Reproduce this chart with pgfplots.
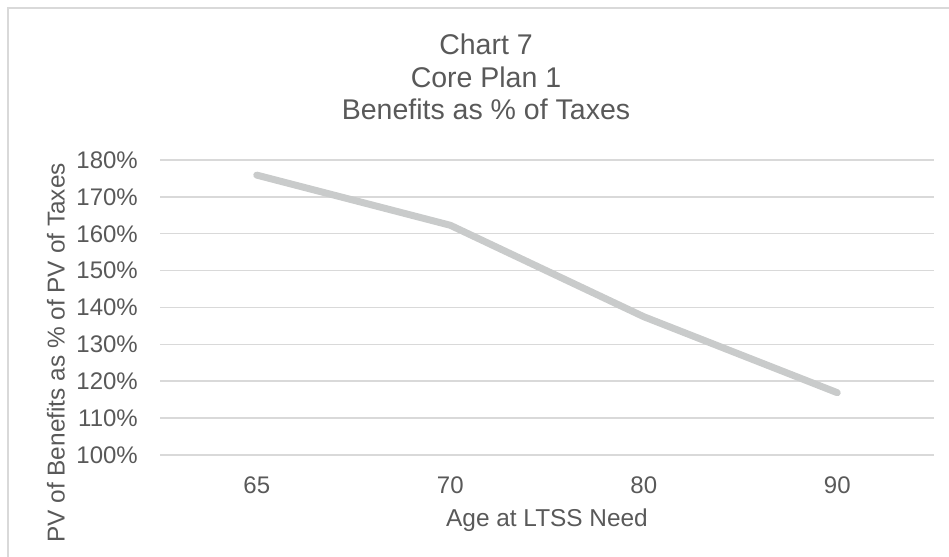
\documentclass[border=0pt]{standalone}
\usepackage{pgfplots}
\pgfplotsset{compat=1.18}
\usepackage{fontspec}
\setmainfont{Liberation Sans}
\definecolor{txt}{HTML}{595959}
\definecolor{grid}{HTML}{D9D9D9}
\definecolor{line}{HTML}{C9CBCB}
\begin{document}
\begin{tikzpicture}[x=1bp,y=1bp]
\useasboundingbox (0,0) rectangle (949,557);
\draw[color=grid, line width=1.5bp] (8,-20) -- (8,549) -- (980,549);
\node[align=center, anchor=base, text=txt, font=\fontsize{28.5bp}{32.5bp}\selectfont] at (486,437) {Chart 7\\Core Plan 1\\Benefits as \% of Taxes};
\begin{axis}[
  at={(160bp,102bp)}, anchor=south west,
  scale only axis, width=774bp, height=295bp,
  xmin=-0.5, xmax=3.5, ymin=100, ymax=180,
  xtick={0,1,2,3}, xticklabels={65,70,80,90},
  ytick={100,110,120,130,140,150,160,170,180},
  yticklabels={100\%,110\%,120\%,130\%,140\%,150\%,160\%,170\%,180\%},
  ymajorgrids, grid style={color=grid, line width=1.5bp},
  axis line style={draw=none}, major tick length=0pt,
  tick label style={text=txt, font=\fontsize{24bp}{28bp}\selectfont},
  yticklabel style={anchor=east, inner sep=0pt, xshift=-22bp},
  xticklabel style={anchor=base, inner sep=0pt, yshift=-39bp},
  xlabel={Age at LTSS Need},
  ylabel={PV of Benefits as \% of PV of Taxes},
  label style={text=txt, font=\fontsize{24.4bp}{28bp}\selectfont, inner sep=0pt},
  xlabel style={at={(axis description cs:0.5,0)}, anchor=base, yshift=-72bp},
  ylabel style={at={(axis description cs:-0.1344,0.346)}, anchor=center},
  clip=false,
]
\addplot[color=line, line width=7bp, line join=round, line cap=round] coordinates {(0,175.9) (1,162.3) (2,137.5) (3,116.9)};
\end{axis}
\end{tikzpicture}
\end{document}
